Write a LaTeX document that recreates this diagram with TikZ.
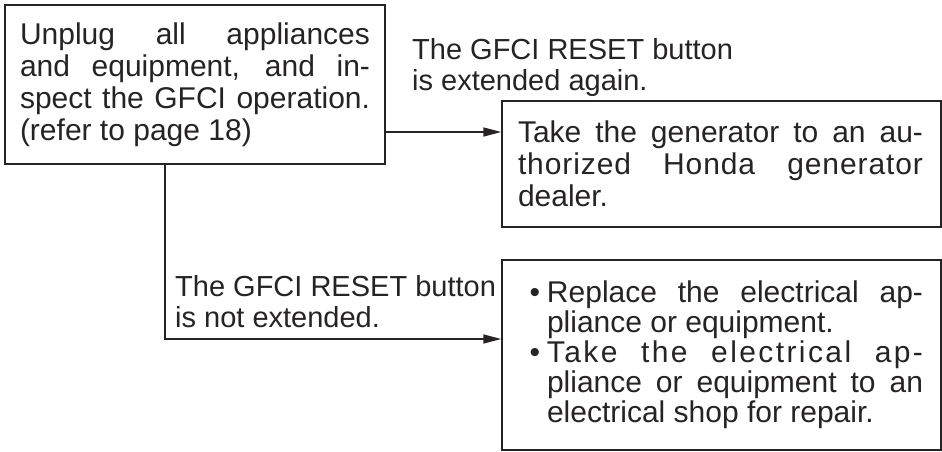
\documentclass[tikz,border=0pt]{standalone}
\usepackage{fontspec}
\setmainfont{Liberation Sans}
\usetikzlibrary{arrows.meta}
\definecolor{ink}{HTML}{262324}
\newcommand\jl[2]{\hbox{\makebox[#1][s]{#2}}}
\newcommand\kl[4]{\hbox{\kern#1\makebox[#2][s]{#4}\kern#3}}
\newcommand\kn[4]{\hbox{\kern#1\makebox[#2][l]{#4}\kern#3}}
\newcommand\kb[4]{\hbox{\kern#1\llap{\textbullet\kern7pt}\makebox[#2][s]{#4}\kern#3}}
\begin{document}
\begin{tikzpicture}[x=1pt,y=-1pt,
  box/.style={draw=ink, line width=1.5pt, inner sep=0pt, text=ink,
    font=\fontsize{30}{32}\selectfont},
  lbl/.style={inner sep=0pt, anchor=base west, text=ink,
    font=\fontsize{29}{31}\selectfont},
  arr/.style={draw=ink, line width=1.5pt, -{Triangle[length=18pt,width=9pt]}}]
\useasboundingbox (0,0) rectangle (942,451);

\node[box, minimum width=380pt, minimum height=159pt] (b1) at (195,84.5)
  {\vbox{\baselineskip=32pt
    \jl{350pt}{Unplug all appliances}
    \jl{350pt}{and equipment, and in-}
    \jl{350pt}{spect the GFCI operation.}
    \hbox{\makebox[350pt][l]{(refer to page 18)}}}};

\node[box, minimum width=439pt, minimum height=126pt] (b2) at (721.5,164)
  {\vbox{\baselineskip=32pt
    \kl{16pt}{405pt}{18pt}{Take the generator to an au-}
    \kl{16pt}{405pt}{18pt}{\addfontfeature{LetterSpace=3}thorized Honda generator}
    \kn{16pt}{405pt}{18pt}{dealer.}}};

\node[box, minimum width=439pt, minimum height=190pt] (b3) at (721.5,355)
  {\vbox{\baselineskip=30pt
    \kb{45pt}{376pt}{18pt}{Replace the electrical ap-}
    \kn{45pt}{376pt}{18pt}{pliance or equipment.}
    \kb{45pt}{376pt}{18pt}{\addfontfeature{LetterSpace=8}Take the electrical ap-}
    \kl{45pt}{376pt}{18pt}{pliance or equipment to an}
    \kn{45pt}{376pt}{18pt}{electrical shop for repair.}}};

\node[lbl] (l1) at (412,59)
  {\vtop{\baselineskip=31pt\hbox{The GFCI RESET button}\hbox{is extended again.}}};
\node[lbl] (l2) at (175,296)
  {\vtop{\baselineskip=31pt\hbox{The GFCI RESET button}\hbox{is not extended.}}};

\draw[arr] ([yshift=-47.5pt]b1.east) coordinate (s1) -- (s1 -| b2.west);
\draw[arr] ([xshift=-30pt]b1.south) |- ([yshift=16pt]b3.west);
\end{tikzpicture}
\end{document}
